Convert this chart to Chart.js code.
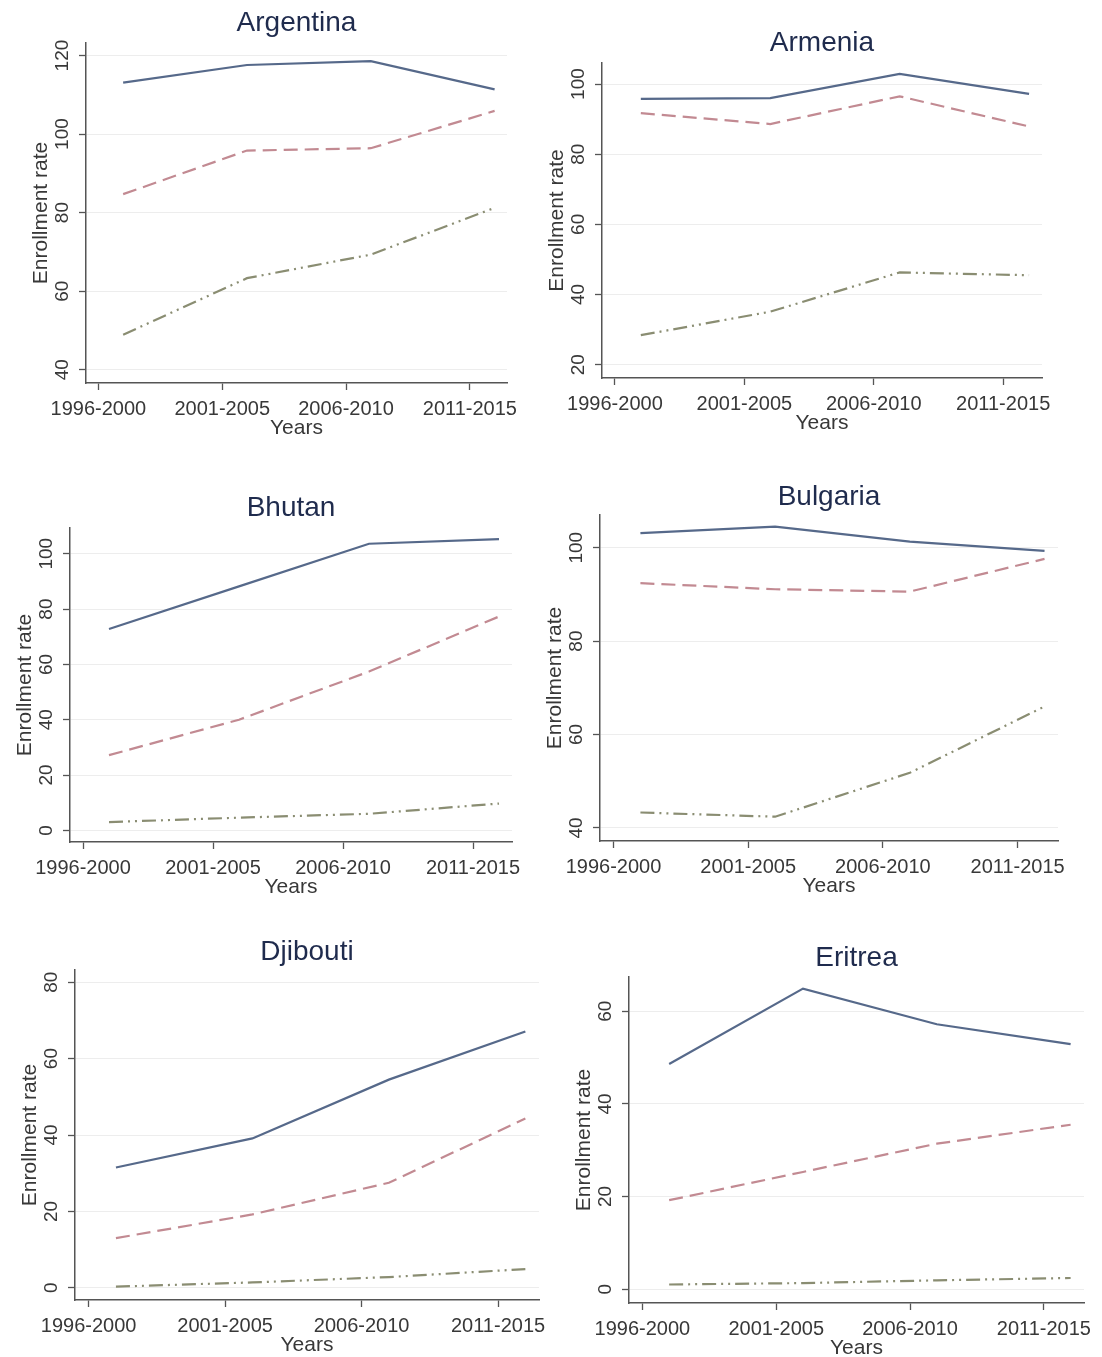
<!DOCTYPE html>
<html>
<head>
<meta charset="utf-8">
<script src="https://cdn.jsdelivr.net/npm/chart.js@4.4.1/dist/chart.umd.min.js"></script>
<style>
  html, body { margin: 0; padding: 0; background: #fff; }
  body { width: 1102px; height: 1357px; position: relative; overflow: hidden; }
  canvas { position: absolute; }
</style>
</head>
<body>
<script>
// periods on the x axis
const periodLabels = ['1996-2000', '2001-2005', '2006-2010', '2011-2015'];
const tickYears = [1996, 2001, 2006, 2011];
const pointYears = [1997, 2002, 2007, 2012];

// enrollment rates: primary (solid), secondary (dashed), tertiary (dash-dot)
const argentinaPrimary = [113.1, 117.6, 118.6, 111.4];
const argentinaSecondary = [84.7, 95.8, 96.4, 105.9];
const argentinaTertiary = [48.9, 63.3, 69.3, 81.2];
const argentinaTicks = [40, 60, 80, 100, 120];

const armeniaPrimary = [95.8, 96.0, 102.9, 97.2];
const armeniaSecondary = [91.7, 88.6, 96.5, 87.9];
const armeniaTertiary = [28.4, 35.1, 46.3, 45.5];
const armeniaTicks = [20, 40, 60, 80, 100];

const bhutanPrimary = [72.8, 88.2, 103.6, 105.3];
const bhutanSecondary = [27.2, 40.0, 57.4, 77.3];
const bhutanTertiary = [3.0, 4.6, 6.0, 9.7];
const bhutanTicks = [0, 20, 40, 60, 80, 100];

const bulgariaPrimary = [103.1, 104.5, 101.3, 99.3];
const bulgariaSecondary = [92.4, 91.1, 90.6, 97.6];
const bulgariaTertiary = [43.3, 42.4, 51.8, 66.0];
const bulgariaTicks = [40, 60, 80, 100];

const djiboutiPrimary = [31.5, 39.1, 54.5, 67.1];
const djiboutiSecondary = [13.0, 19.2, 27.5, 44.3];
const djiboutiTertiary = [0.3, 1.4, 2.8, 4.9];
const djiboutiTicks = [0, 20, 40, 60, 80];

const eritreaPrimary = [48.6, 64.9, 57.2, 52.9];
const eritreaSecondary = [19.2, 25.3, 31.4, 35.5];
const eritreaTertiary = [1.0, 1.3, 1.9, 2.4];
const eritreaTicks = [0, 20, 40, 60];

const FONT = '"Liberation Sans", Arial, sans-serif';
const TEXT = '#383838';
const AXIS = '#555';
const TITLE_SIZE = 28;

// plot area of each panel on the page: [left, top, right, bottom]
const panels = [
  { name: 'Argentina', p: argentinaPrimary, s: argentinaSecondary, t: argentinaTertiary, ticks: argentinaTicks,
    yMin: 36.6, yMax: 123.2, box: [86, 43, 507, 383], titleY: 23 },
  { name: 'Armenia', p: armeniaPrimary, s: armeniaSecondary, t: armeniaTertiary, ticks: armeniaTicks,
    yMin: 16.2, yMax: 106, box: [602, 63, 1042, 378], titleY: 43 },
  { name: 'Bhutan', p: bhutanPrimary, s: bhutanSecondary, t: bhutanTertiary, ticks: bhutanTicks,
    yMin: -4.2, yMax: 109.3, box: [70, 528, 512, 842], titleY: 508 },
  { name: 'Bulgaria', p: bulgariaPrimary, s: bulgariaSecondary, t: bulgariaTertiary, ticks: bulgariaTicks,
    yMin: 37.2, yMax: 107, box: [600, 515, 1058, 841], titleY: 497 },
  { name: 'Djibouti', p: djiboutiPrimary, s: djiboutiSecondary, t: djiboutiTertiary, ticks: djiboutiTicks,
    yMin: -3.2, yMax: 83.2, box: [75, 970, 539, 1300], titleY: 952 },
  { name: 'Eritrea', p: eritreaPrimary, s: eritreaSecondary, t: eritreaTertiary, ticks: eritreaTicks,
    yMin: -3.0, yMax: 67.4, box: [629, 977, 1084, 1303], titleY: 958 }
];

// y tick labels are rotated like the Stata original
const yTickLabels = {
  id: 'yTickLabels',
  afterDraw(chart) {
    const sc = chart.scales.y, ctx = chart.ctx;
    ctx.save();
    ctx.font = '19px ' + FONT;
    ctx.fillStyle = TEXT;
    ctx.textAlign = 'center';
    ctx.textBaseline = 'middle';
    sc.ticks.forEach(tk => {
      ctx.save();
      ctx.translate(chart.chartArea.left - 23, sc.getPixelForValue(tk.value));
      ctx.rotate(-Math.PI / 2);
      ctx.fillText(String(tk.value), 0, 0);
      ctx.restore();
    });
    ctx.restore();
  }
};

const padL = 100, padT = 40, padR = 40, padB = 70;
const yW = 60, xH = 60;

function toPoints(vals) {
  return vals.map((v, i) => ({ x: pointYears[i], y: v }));
}

panels.forEach(pn => {
  const [cl, ct, cr, cb] = pn.box;
  const x0 = cl - padL, y0 = ct - padT;
  const cv = document.createElement('canvas');
  cv.width = (cr - cl) + padL + padR;
  cv.height = (cb - ct) + padT + padB;
  cv.style.left = x0 + 'px';
  cv.style.top = y0 + 'px';
  document.body.appendChild(cv);

  const half = TITLE_SIZE / 2;
  new Chart(cv.getContext('2d'), {
    type: 'line',
    data: {
      datasets: [
        { label: 'Tertiary', data: toPoints(pn.t), borderColor: '#8a8d72', borderWidth: 2.2,
          borderDash: [14, 5, 2, 5, 2, 5], pointRadius: 0, tension: 0, fill: false },
        { label: 'Secondary', data: toPoints(pn.s), borderColor: '#c28a92', borderWidth: 2.2,
          borderDash: [14, 7], pointRadius: 0, tension: 0, fill: false },
        { label: 'Primary', data: toPoints(pn.p), borderColor: '#56698a', borderWidth: 2.2,
          pointRadius: 0, tension: 0, fill: false }
      ]
    },
    options: {
      responsive: false,
      animation: false,
      devicePixelRatio: 1,
      layout: {
        padding: { left: padL - yW, right: padR, top: pn.titleY - half - y0, bottom: padB - xH }
      },
      plugins: {
        legend: { display: false },
        tooltip: { enabled: false },
        title: {
          display: true,
          fullSize: false,
          text: pn.name,
          color: '#1f2b4d',
          font: { family: FONT, size: TITLE_SIZE, weight: 'normal', lineHeight: 1 },
          padding: { top: 0, bottom: ct - (pn.titleY + half) }
        }
      },
      scales: {
        x: {
          type: 'linear',
          min: 1995.5,
          max: 2012.5,
          afterBuildTicks: sc => { sc.ticks = tickYears.map(v => ({ value: v })); },
          afterFit: sc => { sc.height = xH; },
          ticks: {
            autoSkip: false, maxRotation: 0, minRotation: 0,
            padding: 9,
            color: TEXT,
            font: { family: FONT, size: 20, lineHeight: 1 },
            callback: (v, i) => periodLabels[i]
          },
          grid: { drawOnChartArea: false, tickLength: 7, tickColor: AXIS, tickWidth: 1.3 },
          border: { display: true, color: AXIS, width: 1.5 },
          title: {
            display: true, text: 'Years', color: TEXT,
            font: { family: FONT, size: 21, lineHeight: 1 },
            padding: { top: 0, bottom: 4 }
          }
        },
        y: {
          min: pn.yMin,
          max: pn.yMax,
          afterBuildTicks: sc => { sc.ticks = pn.ticks.map(v => ({ value: v })); },
          afterFit: sc => { sc.width = yW; },
          ticks: { display: false },
          grid: { color: '#ededed', lineWidth: 1, tickLength: 7, tickColor: AXIS, tickWidth: 1.3 },
          border: { display: true, color: AXIS, width: 1.5 },
          title: {
            display: true, text: 'Enrollment rate', color: TEXT,
            font: { family: FONT, size: 21, lineHeight: 1 },
            padding: { top: 5, bottom: 0 }
          }
        }
      }
    },
    plugins: [yTickLabels]
  });
});
</script>
</body>
</html>
